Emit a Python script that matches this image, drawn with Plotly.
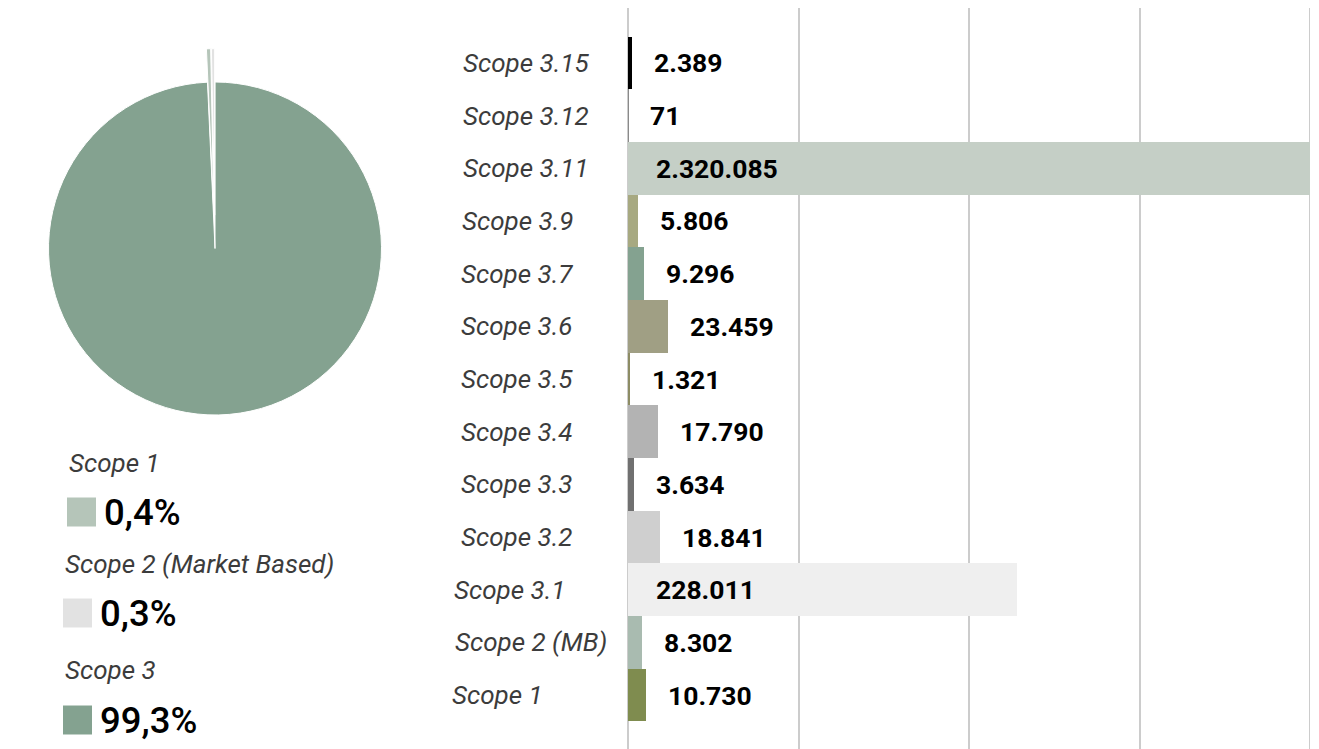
import plotly.graph_objects as go

# ---------------- data ----------------
categories = ["Scope 3.15", "Scope 3.12", "Scope 3.11", "Scope 3.9", "Scope 3.7",
              "Scope 3.6", "Scope 3.5", "Scope 3.4", "Scope 3.3", "Scope 3.2",
              "Scope 3.1", "Scope 2 (MB)", "Scope 1"]
values = [2389, 71, 2320085, 5806, 9296, 23459, 1321, 17790, 3634, 18841,
          228011, 8302, 10730]
value_labels = ["2.389", "71", "2.320.085", "5.806", "9.296", "23.459", "1.321",
                "17.790", "3.634", "18.841", "228.011", "8.302", "10.730"]
bar_colors = ["#000000", "#8a8a8a", "#c5cfc6", "#a7a981", "#84a290", "#a09f84",
              "#8d8c64", "#b3b3b3", "#707070", "#cfcfcf", "#efefef", "#a9bbb0",
              "#7f8c4f"]

pie_labels = ["Scope 3", "Scope 1", "Scope 2 (Market Based)"]
scope1_total = 10730
scope2_total = 8302
scope3_total = sum(v for c, v in zip(categories, values) if c.startswith("Scope 3"))
pie_values = [scope3_total, scope1_total, scope2_total]
pie_colors = ["#84a290", "#b5c5b9", "#e2e2e2"]
pie_pull = [0, 0.2, 0.2]

legend_order = ["Scope 1", "Scope 2 (Market Based)", "Scope 3"]

x_range = [0, 400000]
x_dtick = 100000

# layout-only: left edge (reference pixels) of each category label
label_left = [461, 461, 461, 460, 459, 459, 459, 459, 459, 459, 452, 453, 450]

# the page body adds an 8px margin, so the figure is 8px smaller than the window
OFF = 8
W, H = 1319 - OFF, 749 - OFF
FONT = "Roboto"


def px(x):
    return (x - OFF) / W


def py(y):
    return 1 - (y - OFF) / H


fig = go.Figure()

# ---------------- pie ----------------
fig.add_trace(go.Pie(
    labels=pie_labels, values=pie_values, sort=False, direction="clockwise",
    rotation=0, pull=pie_pull, textinfo="none", hoverinfo="label+percent",
    marker=dict(colors=pie_colors, line=dict(width=1, color="white")),
    domain=dict(x=[px(15.2), px(414.8)], y=[py(448.3), py(48.7)]),
    showlegend=False,
))

# ---------------- bars ----------------
fig.add_trace(go.Bar(
    y=categories, x=values, orientation="h", width=1.0,
    marker=dict(color=bar_colors, line=dict(width=0)),
    showlegend=False, hoverinfo="y+x",
))

annotations = []
for c, v, t, lx in zip(categories, values, value_labels, label_left):
    big = v > x_dtick
    annotations.append(dict(
        x=0 if big else v, y=c, xref="x", yref="y", text="<b>" + t + "</b>",
        showarrow=False, xanchor="left", yanchor="middle",
        xshift=26 if big else 20,
        font=dict(family=FONT, size=26.5, color="#000000"),
    ))
    annotations.append(dict(
        x=px(lx), y=c, xref="paper", yref="y", text="<i>" + c + "</i>",
        showarrow=False, xanchor="left", yanchor="middle",
        font=dict(family=FONT, size=26, color="#3c3c3c"),
    ))

# ---------------- custom legend under the pie ----------------
total = sum(pie_values)
legend_rows = [(67, 463, 512), (63, 564, 613), (63, 670, 720)]
shapes = []
for name, (lx, ly, sy) in zip(legend_order, legend_rows):
    i = pie_labels.index(name)
    pct = f"{pie_values[i] / total * 100:.1f}%".replace(".", ",")
    annotations.append(dict(
        x=px(lx), y=py(ly), xref="paper", yref="paper",
        text="<i>" + name + "</i>", showarrow=False, xanchor="left",
        yanchor="middle",
        font=dict(family=FONT, size=26, color="#3c3c3c"),
    ))
    shapes.append(dict(
        type="rect", xref="paper", yref="paper",
        x0=px(lx), x1=px(lx + 29), y0=py(sy + 14.5), y1=py(sy - 14.5),
        fillcolor=pie_colors[i], line=dict(width=0),
    ))
    annotations.append(dict(
        x=px(lx + 35), y=py(sy), xref="paper", yref="paper",
        text=pct, showarrow=False, xanchor="left", yanchor="middle",
        font=dict(family=FONT, size=36.5, color="#000000", weight=500),
    ))

# gridline at the far end of the axis range (plotly skips the edge one)
shapes.append(dict(
    type="line", xref="x", yref="paper", x0=x_range[1], x1=x_range[1],
    y0=0, y1=1, line=dict(color="#cccccc", width=2), layer="below",
))

n = len(categories)
fig.update_layout(
    width=W, height=H,
    margin=dict(l=0, r=0, t=0, b=0),
    paper_bgcolor="white", plot_bgcolor="white",
    bargap=0,
    xaxis=dict(domain=[px(628), px(1310)], range=x_range, dtick=x_dtick,
               tick0=0, showticklabels=False, showgrid=True,
               gridcolor="#cccccc", gridwidth=2, zeroline=True,
               zerolinecolor="#cccccc", zerolinewidth=2, showline=False,
               fixedrange=True),
    yaxis=dict(domain=[0, 1], range=[n - 1 + 1.025, -1.044],
               showticklabels=False, showgrid=False, zeroline=False,
               showline=False, type="category", fixedrange=True),
    annotations=annotations,
    shapes=shapes,
    font=dict(family=FONT),
)

fig.write_html("out.html")
